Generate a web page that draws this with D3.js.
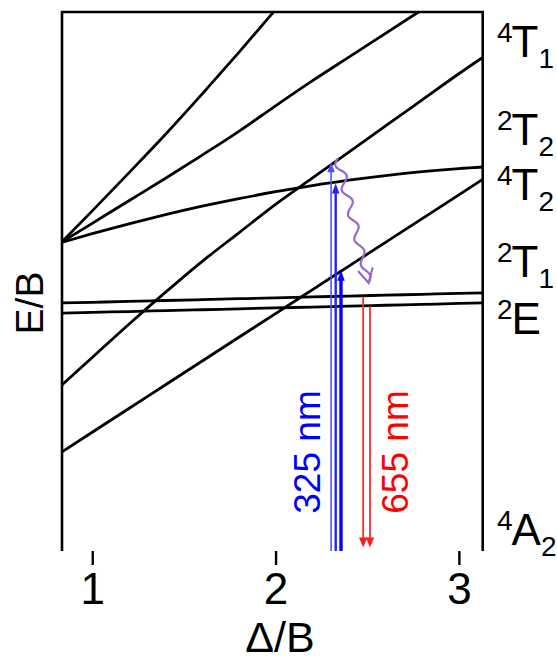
<!DOCTYPE html>
<html>
<head>
<meta charset="utf-8">
<script src="https://cdn.jsdelivr.net/npm/d3@7"></script>
<style>
  body { margin: 0; background: #fff; }
  svg { font-family: "Liberation Sans", Arial, sans-serif; }
</style>
</head>
<body>
<div id="chart"></div>
<script>
// Δ/B grid the levels were read at
var dqB = [0.8, 1.0, 1.2, 1.4, 1.6, 1.8, 2.0, 2.2, 2.4, 2.6, 2.8, 3.0, 3.2];

// E/B of each level (null = off the top of the plot)
var levelSteep = [25.5, 28.65, 31.85, 35.1, 38.5, 42.0, 45.6, 49.2, null, null, null, null, null];
var levelUpper = [25.7, 27.6, 29.5, 31.4, 33.35, 35.35, 37.5, 39.6, 41.6, 43.6, 45.6, null, null];
var levelBent = [25.84, 26.73, 27.56, 28.33, 29.04, 29.68, 30.26, 30.77, 31.23, 31.62, 31.95, 32.21, 32.41];
var levelMid = [13.5, 16.3, 19.1, 21.8, 24.4, 26.8, 29.2, 31.4, 33.6, 35.8, 38.0, 40.2, 42.3];
var level4T2 = [8, 10, 12, 14, 16, 18, 20, 22, 24, 26, 28, 30, 32];
var level2T1 = [20.88, 20.95, 21.02, 21.1, 21.17, 21.25, 21.32, 21.4, 21.47, 21.55, 21.62, 21.7, 21.77];
var level2E = [20.02, 20.1, 20.17, 20.25, 20.32, 20.4, 20.47, 20.55, 20.62, 20.7, 20.77, 20.85, 20.92];

// x ticks
var xTicks = [1, 2, 3];

// state labels on the right: spin multiplicity, term, subscript
var stateSpin = ["4", "2", "4", "2", "2", "4"];
var stateTerm = ["T", "T", "T", "T", "E", "A"];
var stateSub = ["1", "2", "2", "1", "", "2"];
var stateBaseline = [57, 145, 200, 277, 334, 545];

// 325 nm pump arrows (Δ/B, E/B reached)
var pumpX = [2.303, 2.328, 2.357];
var pumpTop = [32.75, 30.95, 23.6];
var pumpWidth = [1.6, 2.4, 3.4];
var pumpColor = ["#5252ff", "#2222ff", "#0000ff"];

// 655 nm emission arrows (Δ/B, E/B start, E/B end)
var emitX = [2.478, 2.515];
var emitTop = [21.42, 20.62];
var emitBottom = [0.3, 0.3];

// non-radiative relaxation (Δ/B, E/B)
var waveStart = [2.341, 33.1];
var waveEnd = [2.508, 22.58];

var width = 557,
  height = 661;

var svg = d3
  .select("#chart")
  .append("svg")
  .attr("width", width)
  .attr("height", height);

var x = d3.scaleLinear().domain([0.835, 3.13]).range([62, 482.7]);
var y = d3.scaleLinear().domain([0, 45.4]).range([551, 12]);

svg
  .append("clipPath")
  .attr("id", "plotclip")
  .append("rect")
  .attr("x", x.range()[0])
  .attr("y", y.range()[1])
  .attr("width", x.range()[1] - x.range()[0])
  .attr("height", y.range()[0] - y.range()[1]);

// energy levels
var levels = [levelSteep, levelUpper, levelBent, levelMid, level4T2, level2T1, level2E];

var line = d3
  .line()
  .defined(function(d) {
    return d[1] != null;
  })
  .x(function(d) {
    return x(d[0]);
  })
  .y(function(d) {
    return y(d[1]);
  })
  .curve(d3.curveMonotoneX);

svg
  .append("g")
  .attr("clip-path", "url(#plotclip)")
  .selectAll("path")
  .data(levels)
  .enter()
  .append("path")
  .attr("d", function(vals) {
    return line(
      dqB.map(function(d, i) {
        return [d, vals[i]];
      })
    );
  })
  .attr("fill", "none")
  .attr("stroke", "#000")
  .attr("stroke-width", 2.8);

// frame: left, top and right only
var x0 = x.range()[0],
  x1 = x.range()[1],
  yTop = y.range()[1],
  yBot = y.range()[0];
svg
  .append("path")
  .attr("d", "M" + x0 + "," + yBot + "V" + yTop + "H" + x1 + "V" + yBot)
  .attr("fill", "none")
  .attr("stroke", "#000")
  .attr("stroke-width", 2.6);

// bottom axis, ticks only
var xAxis = d3
  .axisBottom(x)
  .tickValues(xTicks)
  .tickFormat(d3.format("d"))
  .tickSize(14)
  .tickSizeOuter(0);

var gx = svg
  .append("g")
  .attr("transform", "translate(0," + yBot + ")")
  .call(xAxis);
gx.select(".domain").remove();
gx.selectAll(".tick line").attr("stroke", "#000").attr("stroke-width", 2.4);
gx.selectAll(".tick text")
  .attr("y", 53)
  .attr("dy", 0)
  .attr("fill", "#000")
  .style("font-size", "44px")
  .style("font-family", '"Liberation Sans", Arial, sans-serif');

// axis titles
svg
  .append("text")
  .text("Δ/B")
  .attr("x", 280)
  .attr("y", 652)
  .attr("text-anchor", "middle")
  .style("font-size", "43px");

svg
  .append("text")
  .text("E/B")
  .attr("transform", "translate(43,303) rotate(-90)")
  .attr("text-anchor", "middle")
  .style("font-size", "39px");

// state labels
var labels = svg
  .selectAll(".state")
  .data(stateTerm)
  .enter()
  .append("text")
  .attr("class", "state")
  .attr("x", 497)
  .attr("y", function(d, i) {
    return stateBaseline[i];
  });

labels
  .append("tspan")
  .text(function(d, i) {
    return stateSpin[i];
  })
  .attr("dy", -15)
  .style("font-size", "28px");

labels
  .append("tspan")
  .text(function(d) {
    return d;
  })
  .attr("dx", -1)
  .attr("dy", 15)
  .style("font-size", "44px");

labels
  .append("tspan")
  .text(function(d, i) {
    return stateSub[i];
  })
  .attr("dy", 11)
  .style("font-size", "28px");

// pump arrows (upward)
pumpX.forEach(function(px, i) {
  var cx = x(px),
    tip = y(pumpTop[i]);
  svg
    .append("line")
    .attr("x1", cx)
    .attr("x2", cx)
    .attr("y1", yBot)
    .attr("y2", tip + 7)
    .attr("stroke", pumpColor[i])
    .attr("stroke-width", pumpWidth[i]);
  svg
    .append("path")
    .attr("d", "M" + cx + "," + tip + "L" + (cx - 3.8) + "," + (tip + 10) + "L" + (cx + 3.8) + "," + (tip + 10) + "Z")
    .attr("fill", pumpColor[i]);
});

// emission arrows (downward)
emitX.forEach(function(ex, i) {
  var cx = x(ex),
    tip = y(emitBottom[i]);
  svg
    .append("line")
    .attr("x1", cx)
    .attr("x2", cx)
    .attr("y1", y(emitTop[i]))
    .attr("y2", tip - 7)
    .attr("stroke", "#ff2a2a")
    .attr("stroke-width", 1.8);
  svg
    .append("path")
    .attr("d", "M" + cx + "," + tip + "L" + (cx - 4.2) + "," + (tip - 10) + "L" + (cx + 4.2) + "," + (tip - 10) + "Z")
    .attr("fill", "#ff1a1a");
});

// wavy relaxation arrow
var p0 = [x(waveStart[0]), y(waveStart[1])],
  p1 = [x(waveEnd[0]), y(waveEnd[1])];
var dx = p1[0] - p0[0],
  dy = p1[1] - p0[1],
  len = Math.sqrt(dx * dx + dy * dy);
var ux = dx / len,
  uy = dy / len;
var wavePts = d3.range(0, 1.0001, 0.01).map(function(t) {
  var s = 4.5 * Math.sin(t * Math.PI * 2 * 5) * (1 - 0.3 * t);
  return [p0[0] + dx * t - uy * s, p0[1] + dy * t + ux * s];
});
svg
  .append("path")
  .attr("d", d3.line()(wavePts))
  .attr("fill", "none")
  .attr("stroke", "#9966cc")
  .attr("stroke-width", 2.2);

var ang = Math.atan2(-uy, -ux),
  arm = 16,
  spread = (28 * Math.PI) / 180;
svg
  .append("path")
  .attr(
    "d",
    "M" + (p1[0] + arm * Math.cos(ang - spread)) + "," + (p1[1] + arm * Math.sin(ang - spread)) +
      "L" + p1[0] + "," + p1[1] +
      "L" + (p1[0] + arm * Math.cos(ang + spread)) + "," + (p1[1] + arm * Math.sin(ang + spread))
  )
  .attr("fill", "none")
  .attr("stroke", "#9966cc")
  .attr("stroke-width", 2.2);

// wavelength labels
svg
  .append("text")
  .text("325 nm")
  .attr("transform", "translate(320,452) rotate(-90)")
  .attr("text-anchor", "middle")
  .attr("fill", "#0000ff")
  .style("font-size", "37px");

svg
  .append("text")
  .text("655 nm")
  .attr("transform", "translate(408,452) rotate(-90)")
  .attr("text-anchor", "middle")
  .attr("fill", "#ff0000")
  .style("font-size", "37px");
</script>
</body>
</html>
